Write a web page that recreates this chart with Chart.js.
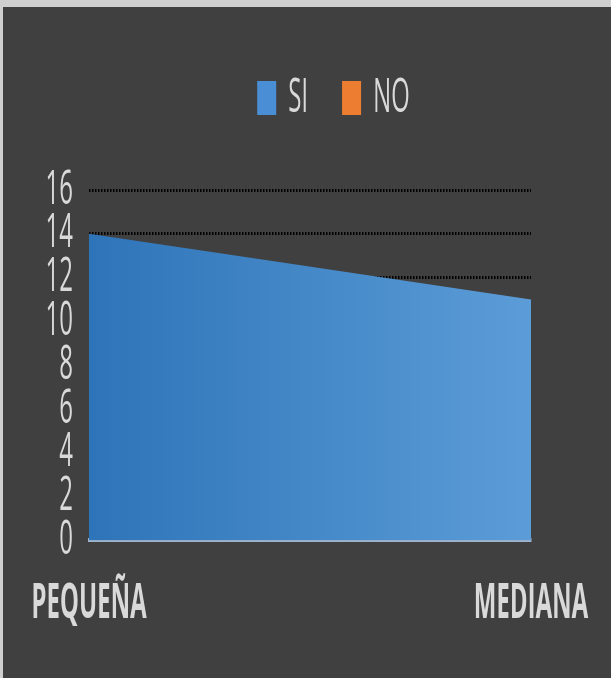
<!DOCTYPE html>
<html>
<head>
<meta charset="utf-8">
<script src="https://cdn.jsdelivr.net/npm/chart.js@4/dist/chart.umd.min.js"></script>
<style>
    html, body { margin: 0; padding: 0; background: #cfcfcf; width: 611px; height: 678px; overflow: hidden; }
    #panel { position: absolute; left: 3px; top: 7px; width: 608px; height: 671px; background: #404040; }
    /* the original picture is stretched vertically, so draw at half height and scale up */
    #wrap { position: absolute; left: 0; top: 0; width: 611px; height: 339px; transform: scaleY(2); transform-origin: 0 0; }
</style>
</head>
<body>
<div id="panel"></div>
<div id="wrap"><canvas id="chart" width="611" height="339"></canvas></div>
<script>
const categories = ['PEQUEÑA', 'MEDIANA'];
const siValues   = [14, 11];
const noValues   = [0, 0];
const seriesNames  = ['SI', 'NO'];
const legendColors = ['#4a8fd6', '#ed7d31'];

document.addEventListener('DOMContentLoaded', function () {
    const canvas = document.getElementById('chart');

    function blueFill(context) {
        const area = context.chart.chartArea;
        if (!area) return '#4a8fd6';
        const g = context.chart.ctx.createLinearGradient(area.left, 0, area.right, 0);
        g.addColorStop(0, '#2e74b8');
        g.addColorStop(1, '#5c9dd8');
        return g;
    }

    // legend sits right of the plot centre in the original
    const legendShift = {
        id: 'legendShift',
        afterLayout(chart) {
            chart.legend.left += 68;
            chart.legend.right += 68;
        }
    };

    new Chart(canvas, {
        type: 'line',
        data: {
            labels: categories,
            datasets: [
                { label: seriesNames[0], data: siValues, fill: 'origin', backgroundColor: blueFill, borderWidth: 0, pointRadius: 0, tension: 0 },
                { label: seriesNames[1], data: noValues, fill: 'origin', backgroundColor: '#ed7d31', borderWidth: 0, pointRadius: 0, tension: 0 }
            ]
        },
        options: {
            responsive: false,
            animation: false,
            devicePixelRatio: 2,
            layout: { padding: { top: 3, right: 80, bottom: 13, left: 0 } },
            plugins: {
                tooltip: { enabled: false },
                legend: {
                    position: 'top',
                    weight: 3000,
                    labels: {
                        color: '#d9d9d9',
                        font: { family: 'Open Sans', size: 24 },
                        boxWidth: 19,
                        boxHeight: 17,
                        padding: 34,
                        generateLabels: () => seriesNames.map((n, i) => ({
                            text: n, fillStyle: legendColors[i], strokeStyle: legendColors[i], lineWidth: 0,
                            fontColor: '#d9d9d9', datasetIndex: i
                        }))
                    }
                },
                // empty spacer between legend and plot
                title: { display: true, text: '', weight: 500, padding: 0, font: { size: 20 } }
            },
            scales: {
                x: {
                    offset: false,
                    grid: { display: false },
                    border: { display: true, color: '#9fb4cc', width: 2 },
                    ticks: { color: '#d9d9d9', padding: 9.5, maxRotation: 0, font: { family: 'Open Sans', size: 24, weight: 'bold' } }
                },
                y: {
                    min: 0,
                    max: 16,
                    afterFit: s => { s.width = 89; },
                    grid: {
                        drawTicks: false,
                        lineWidth: 1.5,
                        color: ctx => ctx.tick && ctx.tick.value === 0 ? 'rgba(0,0,0,0)' : '#000000'
                    },
                    border: { display: false, dash: [1.5, 1.5] },
                    ticks: { stepSize: 2, autoSkip: false, padding: 16, color: '#d9d9d9', font: { family: 'Open Sans', size: 24 } }
                }
            }
        },
        plugins: [legendShift]
    });
});
</script>
</body>
</html>
